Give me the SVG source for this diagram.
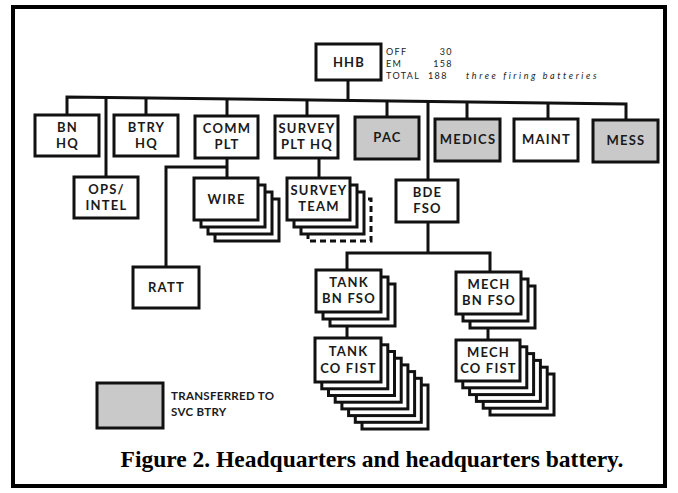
<svg xmlns="http://www.w3.org/2000/svg" width="678" height="493" viewBox="0 0 678 493">
<style>
.b{fill:#fff;stroke:#111;stroke-width:3}
.g{fill:#c9c9c9;stroke:#111;stroke-width:3}
.d{fill:#fff;stroke:#111;stroke-width:3;stroke-dasharray:6 4}
.ln{fill:none;stroke:#111;stroke-width:3}
.t{font-family:Lato,"Open Sans",sans-serif;font-weight:bold;font-size:13px;letter-spacing:1.2px;fill:#1a1a1a;text-anchor:middle}
.lg{font-family:Lato,"Open Sans",sans-serif;font-weight:bold;font-size:11.5px;letter-spacing:0.3px;fill:#1a1a1a}
.s{font-family:Lato,"Open Sans",sans-serif;font-size:9px;fill:#222;letter-spacing:1.4px}
.it{font-style:italic;letter-spacing:2.6px}
.cap{font-family:"Liberation Serif","Times New Roman",serif;font-weight:bold;font-size:23.5px;fill:#000;text-anchor:middle}
</style>
<rect x="0" y="0" width="678" height="493" fill="#fff"/>
<rect x="13" y="7" width="652" height="479" fill="none" stroke="#000" stroke-width="4"/>

<g id="connectors">
<polyline class="ln" points="67,115 67,97 626,104 626,120"/>
<line class="ln" x1="348" y1="80" x2="348" y2="100.5"/>
<line class="ln" x1="106" y1="97.5" x2="106" y2="177"/>
<line class="ln" x1="146" y1="98" x2="146" y2="115"/>
<line class="ln" x1="227" y1="99" x2="227" y2="116"/>
<line class="ln" x1="307" y1="100" x2="307" y2="116"/>
<line class="ln" x1="387" y1="101" x2="387" y2="117"/>
<line class="ln" x1="428" y1="101.5" x2="428" y2="180"/>
<line class="ln" x1="467" y1="102" x2="467" y2="119"/>
<line class="ln" x1="548" y1="103" x2="548" y2="119"/>
<line class="ln" x1="227" y1="158" x2="227" y2="178"/>
<polyline class="ln" points="227,167 166,167 166,267"/>
<line class="ln" x1="319" y1="158" x2="319" y2="178"/>
<line class="ln" x1="428" y1="222" x2="428" y2="253"/>
<polyline class="ln" points="347,270 347,253 490,253 490,272"/>
<line class="ln" x1="347" y1="312" x2="347" y2="338"/>
<line class="ln" x1="488" y1="314" x2="488" y2="340"/>
</g>

<g id="hhb">
<rect class="b" x="316" y="44" width="65" height="36"/>
<text class="t" x="349" y="67">HHB</text>
<text class="s" x="386" y="55">OFF</text>
<text class="s" x="453" y="55" text-anchor="end">30</text>
<text class="s" x="386" y="67">EM</text>
<text class="s" x="453" y="67" text-anchor="end">158</text>
<text class="s" x="386" y="79">TOTAL</text>
<text class="s" x="428" y="79">188</text>
<text class="s it" x="466" y="79">three firing batteries</text>
</g>

<g id="bnhq"><rect class="b" x="35" y="115" width="64" height="41"/><text class="t" x="67.5" y="132">BN</text><text class="t" x="67.5" y="148">HQ</text></g>
<g id="btryhq"><rect class="b" x="114" y="115" width="64" height="41"/><text class="t" x="146.5" y="132">BTRY</text><text class="t" x="146.5" y="148">HQ</text></g>
<g id="commplt"><rect class="b" x="195" y="116" width="63" height="42"/><text class="t" x="227" y="133">COMM</text><text class="t" x="227" y="149">PLT</text></g>
<g id="surveyplthq"><rect class="b" x="275" y="116" width="63" height="42"/><text class="t" x="307" y="133">SURVEY</text><text class="t" x="307" y="149">PLT HQ</text></g>
<g id="pac"><rect class="g" x="355" y="117" width="64" height="42"/><text class="t" x="387.5" y="142">PAC</text></g>
<g id="medics"><rect class="g" x="435" y="119" width="65" height="42"/><text class="t" x="468" y="144">MEDICS</text></g>
<g id="maint"><rect class="b" x="514" y="119" width="64" height="42"/><text class="t" x="546.5" y="144">MAINT</text></g>
<g id="mess"><rect class="g" x="593" y="120" width="65" height="42"/><text class="t" x="626" y="145">MESS</text></g>

<g id="opsintel"><rect class="b" x="74" y="177" width="64" height="41"/><text class="t" x="106.5" y="194">OPS/</text><text class="t" x="106.5" y="210">INTEL</text></g>

<g id="wire">
<rect class="b" x="215" y="199" width="64" height="42"/>
<rect class="b" x="208" y="192" width="64" height="42"/>
<rect class="b" x="201" y="185" width="64" height="42"/>
<rect class="b" x="194" y="178" width="64" height="42"/>
<text class="t" x="226.5" y="204">WIRE</text>
</g>

<g id="ratt"><rect class="b" x="133" y="267" width="66" height="41"/><text class="t" x="166.5" y="292">RATT</text></g>

<g id="surveyteam">
<rect class="d" x="308" y="199" width="63" height="42"/>
<rect class="b" x="301" y="192" width="63" height="42"/>
<rect class="b" x="294" y="185" width="63" height="42"/>
<rect class="b" x="287" y="178" width="63" height="42"/>
<text class="t" x="319" y="195">SURVEY</text>
<text class="t" x="319" y="211">TEAM</text>
</g>

<g id="bdefso"><rect class="b" x="396" y="180" width="62" height="42"/><text class="t" x="427.5" y="197">BDE</text><text class="t" x="427.5" y="213">FSO</text></g>

<g id="tankbnfso">
<rect class="b" x="330" y="284" width="65" height="42"/>
<rect class="b" x="323" y="277" width="65" height="42"/>
<rect class="b" x="316" y="270" width="65" height="42"/>
<text class="t" x="349" y="287">TANK</text>
<text class="t" x="349" y="303">BN FSO</text>
</g>

<g id="mechbnfso">
<rect class="b" x="470" y="286" width="65" height="42"/>
<rect class="b" x="463" y="279" width="65" height="42"/>
<rect class="b" x="456" y="272" width="65" height="42"/>
<text class="t" x="489" y="289">MECH</text>
<text class="t" x="489" y="305">BN FSO</text>
</g>

<g id="tankcofist">
<rect class="b" x="362" y="385" width="66" height="44"/>
<rect class="b" x="355.3" y="378.3" width="66" height="44"/>
<rect class="b" x="348.6" y="371.6" width="66" height="44"/>
<rect class="b" x="341.9" y="364.9" width="66" height="44"/>
<rect class="b" x="335.2" y="358.2" width="66" height="44"/>
<rect class="b" x="328.5" y="351.5" width="66" height="44"/>
<rect class="b" x="321.8" y="344.8" width="66" height="44"/>
<rect class="b" x="315" y="338" width="66" height="44"/>
<text class="t" x="348.5" y="356">TANK</text>
<text class="t" x="348.5" y="373">CO FIST</text>
</g>

<g id="mechcofist">
<rect class="b" x="490" y="374" width="64" height="41"/>
<rect class="b" x="483.2" y="367.2" width="64" height="41"/>
<rect class="b" x="476.4" y="360.4" width="64" height="41"/>
<rect class="b" x="469.6" y="353.6" width="64" height="41"/>
<rect class="b" x="462.8" y="346.8" width="64" height="41"/>
<rect class="b" x="456" y="340" width="64" height="41"/>
<text class="t" x="488.5" y="357">MECH</text>
<text class="t" x="488.5" y="373">CO FIST</text>
</g>

<g id="legend">
<rect class="g" x="97" y="383" width="66" height="45"/>
<text class="lg" x="171" y="400">TRANSFERRED TO</text>
<text class="lg" x="171" y="416">SVC BTRY</text>
</g>

<text class="cap" x="372" y="467">Figure 2. Headquarters and headquarters battery.</text>
</svg>
